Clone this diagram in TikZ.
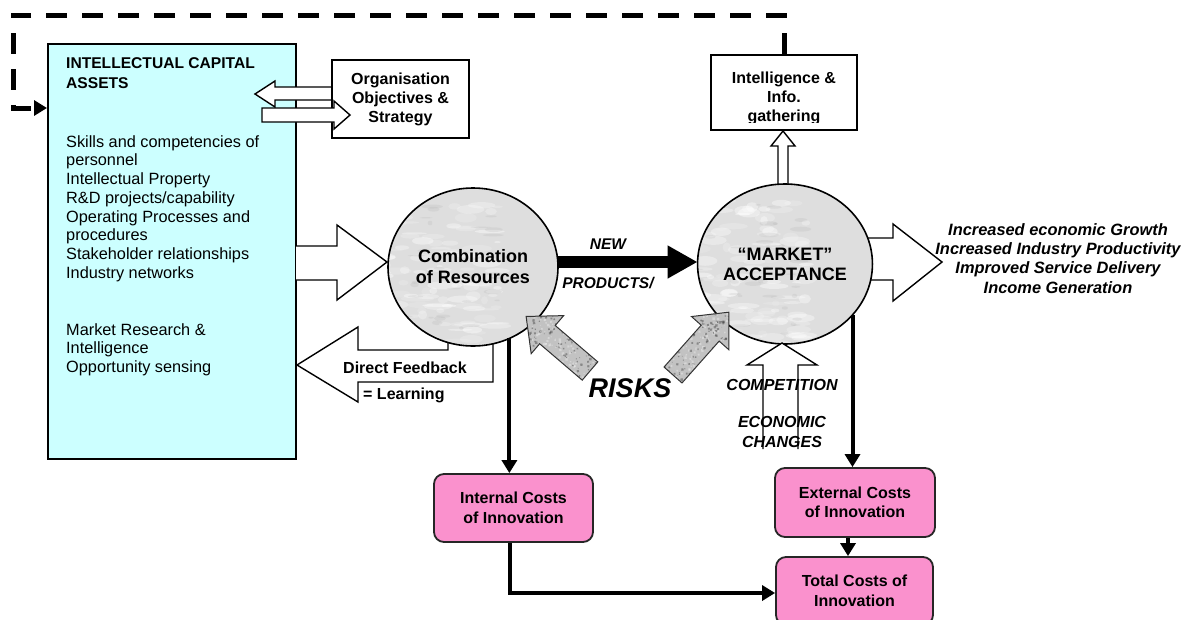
\documentclass[tikz,border=0pt]{standalone}
\usepackage{fontspec}
\setmainfont{Liberation Sans}
\usetikzlibrary{arrows.meta,shapes.geometric}

\definecolor{capcyan}{RGB}{204,255,255}
\definecolor{costpink}{RGB}{250,145,205}
\newcommand{\setfs}[2]{\fontsize{#1}{#2}\selectfont}

\tikzset{
  hollow/.style={draw=black, line width=1.4pt, fill=white, line join=miter},
  solidlink/.style={line width=4pt, -{Triangle[length=13pt,width=15pt]}},
  plainbox/.style={draw=black, line width=2pt, fill=white, inner sep=0pt},
  cost/.style={draw=black!85, line width=1.8pt, fill=costpink, rounded corners=10pt,
    inner sep=0pt, align=center, font=\bfseries\setfs{16}{19.5}},
  lbl/.style={inner sep=0pt, font=\bfseries\setfs{16}{19}},
  ilbl/.style={inner sep=0pt, font=\bfseries\itshape\setfs{16}{19.3}},
  % mottled grey fill for the two process circles
  marble/.style={fill=gray!26, path picture={
    \begin{scope}[shift={(path picture bounding box.center)}]
      \pgfmathsetseed{#1}
      \foreach \k in {1,...,160}{
        \pgfmathsetmacro\px{rand*84}
        \pgfmathsetmacro\py{rand*80}
        \pgfmathsetmacro\rl{3+rnd*14}
        \pgfmathsetmacro\rs{1+rnd*4}
        \pgfmathsetmacro\rr{rand*90}
        \pgfmathsetmacro\op{0.12+rnd*0.3}
        \fill[white, opacity=\op, rotate around={\rr:(\px,\py)}] (\px,\py) ellipse ({\rl} and {\rs});
      }
      \foreach \k in {1,...,60}{
        \pgfmathsetmacro\px{rand*84}
        \pgfmathsetmacro\py{rand*80}
        \pgfmathsetmacro\rl{2+rnd*9}
        \pgfmathsetmacro\rs{0.6+rnd*2}
        \pgfmathsetmacro\rr{rand*90}
        \fill[gray!70, opacity=0.16, rotate around={\rr:(\px,\py)}] (\px,\py) ellipse ({\rl} and {\rs});
      }
    \end{scope}}},
  % speckled grey fill for the risk arrows
  speckle/.style={fill=gray!48, path picture={
      \pgfmathsetseed{#1}
      \foreach \k in {1,...,320}{
        \pgfmathsetmacro\px{rnd*86}
        \pgfmathsetmacro\py{rand*26}
        \pgfmathsetmacro\rd{0.5+rnd*1.3}
        \pgfmathtruncatemacro\sh{rnd>0.5 ? 80 : 5}
        \fill[black!\sh, opacity=0.4] (\px,\py) circle (\rd);
      }}}
}

\begin{document}
\begin{tikzpicture}[x=1pt, y=-1pt]
\useasboundingbox (0,0) rectangle (1186,619);
\clip (0,0) rectangle (1186,619);

% intellectual capital panel
\node[draw=black, line width=2.2pt, fill=capcyan, anchor=north west,
      minimum width=248pt, minimum height=415pt, inner sep=0pt] (icbox) at (47,43) {};
\node[anchor=north west, inner sep=0pt, align=left, font=\bfseries\setfs{15.6}{20}]
  (ictitle) at (66,57) {INTELLECTUAL CAPITAL\\ASSETS};
\node[anchor=north west, inner sep=0pt, align=left, font=\setfs{16.3}{18.75}]
  (iclist) at (66,135) {Skills and competencies of\\personnel\\Intellectual Property\\R\&D projects/capability\\Operating Processes and\\procedures\\Stakeholder relationships\\Industry networks};
\node[anchor=north west, inner sep=0pt, align=left, font=\setfs{16.3}{18.75}]
  (icmarket) at (66,323) {Market Research \&\\Intelligence\\Opportunity sensing};

% intelligence gathering box and the dashed feedback loop
\node[plainbox, minimum width=146pt, minimum height=75pt] (intel) at (784,92.5) {};
\begin{scope}
  \clip (intel.north west) rectangle ([yshift=9pt]intel.south east);
  \node[lbl, anchor=north, align=center] (inteltext) at (784,72) {Intelligence \&\\Info.\\gathering};
\end{scope}
\draw[line width=5pt, dash pattern=on 21pt off 15pt, -{Triangle[length=13pt,width=15pt]}]
  (intel.north) |- (13,15) |- (icbox.west |- 0,108);

% strategy box with its two-way arrows
\draw[hollow] (334,87) -- (275,87) -- (275,81) -- (255,94) -- (275,107) -- (275,100) -- (334,100) -- cycle;
\node[plainbox, minimum width=137pt, minimum height=78pt, align=center,
      font=\bfseries\setfs{16}{19}] (org) at (400.5,99) {Organisation\\Objectives \&\\Strategy};
\draw[hollow] (262,108) -- (334,108) -- (334,101) -- (350,115) -- (334,129) -- (334,122) -- (262,122) -- cycle;

% broad arrows behind the circles
\draw[hollow] (296,246) -- (337,246) -- (337,225) -- (387,262) -- (337,300) -- (337,280) -- (296,280);
\draw[hollow] (448,330) -- (448,350) -- (358,350) -- (358,327) -- (297,365) -- (358,402) -- (358,382) -- (493,382) -- (493,330);
\draw[hollow] (858,238) -- (893,238) -- (893,224) -- (942,262) -- (893,301) -- (893,280) -- (858,280);
\draw[hollow] (778,195) -- (778,146) -- (771,146) -- (783,131) -- (795,146) -- (788,146) -- (788,195);

% the two process circles
\node[ellipse, draw=black, line width=1.6pt, marble=11, minimum width=170pt, minimum height=158pt,
      inner sep=0pt, outer sep=0pt, align=center, font=\bfseries\setfs{18}{21}]
  (comb) at (473,267) {Combination\\of Resources};
\node[ellipse, draw=black, line width=1.6pt, marble=29, minimum width=170pt, minimum height=160pt,
      inner sep=0pt, outer sep=0pt, align=center, font=\bfseries\setfs{18}{20}]
  (mkt) at (785,264) {“MARKET”\\ACCEPTANCE};

% new products flow
\coordinate (npy) at (0,262);
\draw[line width=12pt, -{Triangle[length=30pt,width=31pt]}] (comb.east |- npy) -- (mkt.west |- npy);
\node[ilbl, anchor=base, font=\bfseries\itshape\setfs{15.5}{19}] (newlbl) at (608,249) {NEW};
\node[ilbl, anchor=base, font=\bfseries\itshape\setfs{15.5}{19}] (prodlbl) at (608,288) {PRODUCTS/};

% competition / economic change pressure
\draw[hollow] (763,449) -- (763,365) -- (747,365) -- (782,343) -- (817,365) -- (798,365) -- (798,449);

% risk arrows
\begin{scope}[shift={(590,371)}, rotate=139.5]
  \path[draw=black!80, line width=1pt, speckle=5]
    (0,-12) -- (56,-12) -- (56,-25) -- (84,0) -- (56,25) -- (56,12) -- (0,12) -- cycle;
\end{scope}
\begin{scope}[shift={(673,375)}, rotate=48.4]
  \path[draw=black!80, line width=1pt, speckle=17]
    (0,-12) -- (56,-12) -- (56,-25) -- (84,0) -- (56,25) -- (56,12) -- (0,12) -- cycle;
\end{scope}

% outcome labels
\node[ilbl, anchor=north, align=center, font=\bfseries\itshape\setfs{16.4}{19.2}] (gains) at (1058,223.5)
  {Increased economic Growth\\Increased Industry Productivity\\Improved Service Delivery\\Income Generation};
\node[lbl, anchor=base] (fbtext) at (405,373) {Direct Feedback};
\node[lbl, anchor=base west] (learn) at (363,399) {= Learning};
\node[ilbl, anchor=base, font=\bfseries\itshape\setfs{27}{30}] (risks) at (630,397) {RISKS};
\node[ilbl, anchor=base] (compet) at (782,390) {COMPETITION};
\node[ilbl, anchor=north, align=center, font=\bfseries\itshape\setfs{16}{19.5}] (econ) at (782,416.5) {ECONOMIC\\CHANGES};

% cost boxes
\node[cost, minimum width=159pt, minimum height=68pt] (int) at (513.5,508) {Internal Costs\\of Innovation};
\node[cost, minimum width=160pt, minimum height=69pt] (ext) at (855,502.5) {External Costs\\of Innovation};
\node[cost, minimum width=157pt, minimum height=68pt] (tot) at (854.5,591) {Total Costs of\\Innovation};

% cost flows
\draw[solidlink] (comb.297.5) -- (comb.297.5 |- int.north);
\draw[solidlink] (mkt.323.8) -- (mkt.323.8 |- ext.north);
\draw[solidlink] (ext.south -| 848,0) -- (tot.north -| 848,0);
\draw[solidlink] (int.south -| 510,0) |- (tot.west |- 0,593);
\end{tikzpicture}
\end{document}
